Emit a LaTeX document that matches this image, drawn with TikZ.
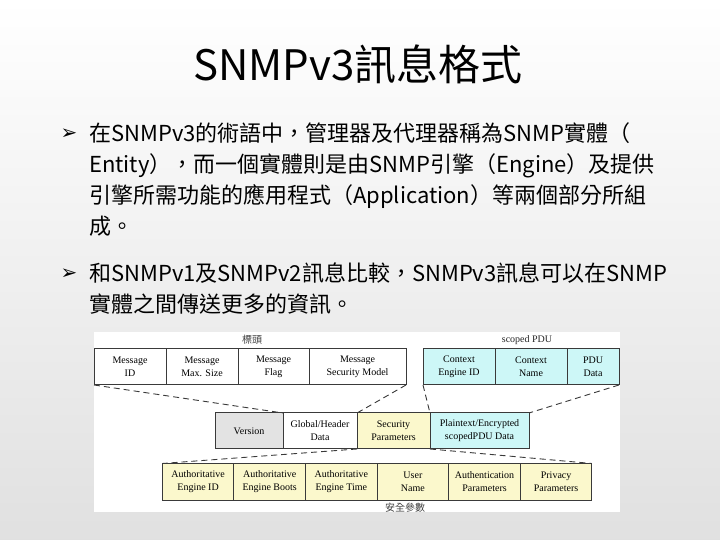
\documentclass[tikz,border=0pt]{standalone}
\usepackage{fontspec}
\setmainfont{Noto Sans CJK TC}
\newfontfamily\dgmfont{Liberation Serif}
\newfontfamily\symfont{DejaVu Sans}
\usepackage{tikz}
\usetikzlibrary{positioning}
\definecolor{linec}{HTML}{3A3A3A}
\definecolor{yel}{HTML}{FBF8CC}
\definecolor{cyn}{HTML}{CDF7F7}
\definecolor{vergray}{HTML}{E3E3E3}
\begin{document}
\begin{tikzpicture}[
  x=1pt,y=1pt,
  node distance=0pt,
  fld/.style={draw=linec,line width=1pt,outer sep=0pt,inner sep=0pt,align=center,
    minimum height=36pt,font=\dgmfont\fontsize{10}{13}\selectfont},
  wide/.style={minimum width=#1},
  dsh/.style={draw=linec,line width=0.9pt,dash pattern=on 6pt off 4pt},
  grouplbl/.style={font=\fontsize{10}{12}\selectfont,text=black!75},
  every node/.style={inner sep=0pt}]
  % slide background
  \shade[top color=white,bottom color=black!12] (0,0) rectangle (720,540);
  \fill[white] (94,28) rectangle (620,208);
  % title and text
  \node (title) at (358,476) {\fontsize{42}{48}\selectfont SNMPv3訊息格式};
  \node (mk1) at (69,406) {\symfont\fontsize{20}{22}\selectfont ➢};
  \node[anchor=north west,align=left,font=\fontsize{22}{31}\selectfont] (pt1) at (89,417.5)
    {在SNMPv3的術語中，管理器及代理器稱為SNMP實體（\\
     Entity），而一個實體則是由SNMP引擎（Engine）及提供\\
     引擎所需功能的應用程式（Application）等兩個部分所組\\
     成。};
  \node (mk2) at (69,266) {\symfont\fontsize{20}{22}\selectfont ➢};
  \node[anchor=north west,align=left,font=\fontsize{22}{31}\selectfont] (pt2) at (89,277.5)
    {和SNMPv1及SNMPv2訊息比較，SNMPv3訊息可以在SNMP\\
     實體之間傳送更多的資訊。};
  % top row
  \node[fld,wide=72pt,anchor=north west] (msgid) at (94,191) {Message\\ID};
  \node[fld,wide=72pt,right=of msgid] (maxsize) {Message\\Max. Size};
  \node[fld,wide=71pt,right=of maxsize] (flag) {Message\\Flag};
  \node[fld,wide=97pt,right=of flag] (secmodel) {Message\\Security Model};
  \node[fld,wide=72pt,fill=cyn,anchor=north west] (ctxid) at (423,191) {Context\\Engine ID};
  \node[fld,wide=72pt,fill=cyn,right=of ctxid] (ctxname) {Context\\Name};
  \node[fld,wide=52pt,fill=cyn,right=of ctxname] (pdudata) {PDU\\Data};
  \node[grouplbl] (hdr) at (252,200) {標頭};
  \node[grouplbl,font=\dgmfont\fontsize{10}{12}\selectfont,text=black!85] (spdu) at (527,200) {scoped PDU};
  % middle row
  \node[fld,wide=68pt,fill=vergray,anchor=north west] (version) at (215,127) {Version};
  \node[fld,wide=74pt,right=of version] (global) {Global/Header\\Data};
  \node[fld,wide=73pt,fill=yel,right=of global] (secparam) {Security\\Parameters};
  \node[fld,wide=99pt,fill=cyn,right=of secparam] (plain) {Plaintext/Encrypted\\scopedPDU Data};
  % bottom row
  \node[fld,wide=71.6pt,minimum height=37pt,fill=yel,anchor=north west] (authid) at (162.3,76.5) {Authoritative\\Engine ID};
  \node[fld,wide=71.6pt,minimum height=37pt,fill=yel,right=of authid] (boots) {Authoritative\\Engine Boots};
  \node[fld,wide=71.6pt,minimum height=37pt,fill=yel,right=of boots] (etime) {Authoritative\\Engine Time};
  \node[fld,wide=71.6pt,minimum height=37pt,fill=yel,right=of etime] (uname) {User\\Name};
  \node[fld,wide=71.6pt,minimum height=37pt,fill=yel,right=of uname] (authp) {Authentication\\Parameters};
  \node[fld,wide=71.6pt,minimum height=37pt,fill=yel,right=of authp] (privp) {Privacy\\Parameters};
  \node[grouplbl] (secl) at (405,32) {安全參數};
  % expansion lines
  \draw[dsh] (msgid.south west) -- (global.north west);
  \draw[dsh] (secmodel.south east) -- (secparam.north west);
  \draw[dsh] (ctxid.south west) -- (plain.north west);
  \draw[dsh] (pdudata.south east) -- (plain.north east);
  \draw[dsh] (secparam.south west) -- (authid.north west);
  \draw[dsh] (secparam.south east) -- (privp.north east);
\end{tikzpicture}
\end{document}
